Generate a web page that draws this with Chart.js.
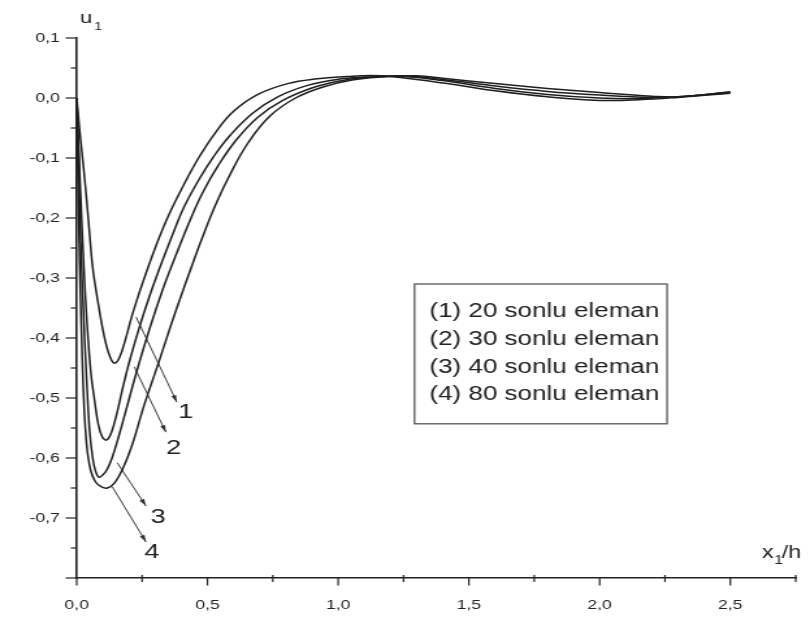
<!DOCTYPE html>
<html><head><meta charset="utf-8">
<script src="https://cdn.jsdelivr.net/npm/chart.js@4/dist/chart.umd.min.js"></script>
<style>html,body{margin:0;padding:0;background:#fff;overflow:hidden}
#c{display:block}</style>
</head><body>
<canvas id="c" width="623" height="624" style="width:810px;height:624px"></canvas>
<script>
// ---- data ----
const curve1X = [0, 0.011, 0.027, 0.038, 0.049, 0.061, 0.080, 0.098, 0.112, 0.128, 0.144, 0.163, 0.186, 0.212, 0.239, 0.265, 0.307, 0.352, 0.409, 0.466, 0.530, 0.598, 0.693, 0.807, 0.920, 1.034, 1.159, 1.30, 1.45, 1.60, 1.80, 2.00, 2.15, 2.30, 2.50];
const curve1U = [0, -0.053, -0.120, -0.170, -0.225, -0.282, -0.337, -0.382, -0.410, -0.432, -0.442, -0.433, -0.403, -0.362, -0.325, -0.292, -0.242, -0.195, -0.145, -0.100, -0.058, -0.023, 0.006, 0.024, 0.032, 0.036, 0.037, 0.031, 0.022, 0.012, 0.002, -0.004, -0.003, 0.001, 0.008];

const curve2X = [0, 0.008, 0.019, 0.034, 0.053, 0.068, 0.083, 0.098, 0.114, 0.133, 0.155, 0.174, 0.201, 0.239, 0.277, 0.314, 0.371, 0.409, 0.466, 0.523, 0.587, 0.674, 0.769, 0.883, 0.996, 1.110, 1.25, 1.40, 1.60, 1.80, 2.00, 2.15, 2.30, 2.50];
const curve2U = [0, -0.087, -0.203, -0.337, -0.453, -0.503, -0.545, -0.565, -0.570, -0.557, -0.523, -0.487, -0.440, -0.383, -0.332, -0.287, -0.223, -0.183, -0.137, -0.098, -0.062, -0.025, 0.002, 0.021, 0.031, 0.035, 0.036, 0.029, 0.016, 0.006, 0.000, -0.001, 0.002, 0.009];

const curve3X = [0, 0.008, 0.015, 0.027, 0.038, 0.049, 0.061, 0.072, 0.085, 0.100, 0.115, 0.135, 0.160, 0.190, 0.230, 0.280, 0.330, 0.372, 0.440, 0.485, 0.542, 0.610, 0.693, 0.788, 0.902, 1.000, 1.100, 1.25, 1.40, 1.60, 1.80, 2.00, 2.20, 2.30, 2.50];
const curve3U = [0, -0.103, -0.237, -0.370, -0.470, -0.553, -0.600, -0.622, -0.632, -0.628, -0.620, -0.600, -0.565, -0.518, -0.455, -0.383, -0.318, -0.270, -0.197, -0.155, -0.112, -0.070, -0.032, -0.004, 0.017, 0.028, 0.034, 0.037, 0.031, 0.020, 0.011, 0.005, 0.001, 0.002, 0.010];

const curve4X = [0, 0.004, 0.011, 0.019, 0.027, 0.038, 0.053, 0.072, 0.095, 0.117, 0.144, 0.182, 0.216, 0.250, 0.277, 0.314, 0.371, 0.436, 0.489, 0.534, 0.587, 0.655, 0.739, 0.837, 0.939, 1.053, 1.167, 1.30, 1.40, 1.60, 1.80, 2.00, 2.20, 2.30, 2.50];
const curve4U = [0, -0.120, -0.270, -0.403, -0.503, -0.578, -0.620, -0.640, -0.648, -0.650, -0.642, -0.612, -0.573, -0.523, -0.487, -0.440, -0.365, -0.285, -0.223, -0.175, -0.127, -0.075, -0.030, 0.000, 0.018, 0.030, 0.035, 0.037, 0.033, 0.024, 0.016, 0.009, 0.003, 0.002, 0.010];

const legendLabels = ['(1) 20 sonlu eleman', '(2) 30 sonlu eleman', '(3) 40 sonlu eleman', '(4) 80 sonlu eleman'];
const curveNumbers = ['1', '2', '3', '4'];
const xTickLabels = ['0,0', '0,5', '1,0', '1,5', '2,0', '2,5'];
const yTickLabels = ['0,1', '0,0', '-0,1', '-0,2', '-0,3', '-0,4', '-0,5', '-0,6', '-0,7'];

// label anchors and leader lines (data coordinates)
const numberAnchorX = [0.417, 0.371, 0.311, 0.288];
const numberAnchorU = [-0.523, -0.583, -0.698, -0.757];
const leaderFromX = [0.227, 0.220, 0.155, 0.136];
const leaderFromU = [-0.365, -0.448, -0.608, -0.648];
const leaderToX = [0.383, 0.341, 0.265, 0.265];
const leaderToU = [-0.507, -0.557, -0.680, -0.740];

// ---- build ----
const toPts = (xs, us) => xs.map((v, i) => ({x: v, y: us[i]}));
const curves = [[curve1X, curve1U], [curve2X, curve2U], [curve3X, curve3U], [curve4X, curve4U]];
const datasets = curves.map(([xs, us], i) => ({
  label: legendLabels[i],
  data: toPts(xs, us),
  showLine: true, pointRadius: 0, borderColor: '#1e1e1e', borderWidth: 1.5,
  tension: 0.4, fill: false
}));
leaderFromX.forEach((v, i) => datasets.push({
  label: 'leader' + curveNumbers[i],
  data: [{x: leaderFromX[i], y: leaderFromU[i]}, {x: leaderToX[i], y: leaderToU[i]}],
  showLine: true, pointRadius: 0, borderColor: '#3a3a3a', borderWidth: 1, tension: 0
}));

const FONT = '"Liberation Sans", Arial, Helvetica, sans-serif';
const TXT = '#222';

const decor = {
  id: 'decor',
  afterDatasetsDraw(chart) {
    const {ctx, chartArea: ca, scales: {x, y}} = chart;
    ctx.save();
    // tick marks (major + minor)
    ctx.strokeStyle = '#222'; ctx.lineWidth = 1.2;
    for (let k = -16; k <= 2; k++) {
      const py = y.getPixelForValue(k / 20);
      const major = k % 2 === 0;
      ctx.beginPath(); ctx.moveTo(ca.left - (major ? 8.5 : 4.6), py); ctx.lineTo(ca.left, py); ctx.stroke();
    }
    for (let k = 0; k <= 11; k++) {
      const px = x.getPixelForValue(k * 0.25);
      const major = k % 2 === 0;
      ctx.beginPath(); ctx.moveTo(px, major ? ca.bottom : ca.bottom - 3); ctx.lineTo(px, ca.bottom + (major ? 7.5 : 4)); ctx.stroke();
    }
    // arrowheads on leaders
    ctx.fillStyle = '#333';
    leaderToX.forEach((v, i) => {
      const x1 = x.getPixelForValue(leaderFromX[i]), y1 = y.getPixelForValue(leaderFromU[i]);
      const x2 = x.getPixelForValue(leaderToX[i]), y2 = y.getPixelForValue(leaderToU[i]);
      const a = Math.atan2(y2 - y1, x2 - x1), L = 7, W = 2;
      ctx.beginPath();
      ctx.moveTo(x2, y2);
      ctx.lineTo(x2 - L * Math.cos(a) + W * Math.sin(a), y2 - L * Math.sin(a) - W * Math.cos(a));
      ctx.lineTo(x2 - L * Math.cos(a) - W * Math.sin(a), y2 - L * Math.sin(a) + W * Math.cos(a));
      ctx.closePath(); ctx.fill();
    });
    // curve numbers
    ctx.fillStyle = TXT; ctx.font = '21px ' + FONT; ctx.textAlign = 'center'; ctx.textBaseline = 'middle';
    curveNumbers.forEach((t, i) => ctx.fillText(t, x.getPixelForValue(numberAnchorX[i]), y.getPixelForValue(numberAnchorU[i])));
    // legend box
    const bx0 = x.getPixelForValue(1.292), bx1 = x.getPixelForValue(2.258);
    const by0 = y.getPixelForValue(-0.31), by1 = y.getPixelForValue(-0.543);
    ctx.fillStyle = '#fff'; ctx.fillRect(bx0, by0, bx1 - bx0, by1 - by0);
    ctx.strokeStyle = '#555'; ctx.lineWidth = 1.3; ctx.strokeRect(bx0, by0, bx1 - bx0, by1 - by0);
    ctx.fillStyle = TXT; ctx.font = '20px ' + FONT; ctx.textAlign = 'left'; ctx.textBaseline = 'middle';
    legendLabels.forEach((t, i) => ctx.fillText(t, bx0 + 11.5, by0 + 27.7 + i * 27.7));
    // axis titles
    ctx.textBaseline = 'alphabetic'; ctx.textAlign = 'left';
    ctx.font = '17px ' + FONT;
    let ux = ca.left + 2.5;
    ctx.fillText('u', ux, ca.top - 15);
    ux += ctx.measureText('u').width + 1.5;
    ctx.font = '11px ' + FONT; ctx.fillText('1', ux, ca.top - 8);
    let xx = ca.right - 26;
    ctx.font = '18px ' + FONT; ctx.fillText('x', xx, ca.bottom - 20);
    xx += ctx.measureText('x').width + 0.5;
    ctx.font = '12px ' + FONT; ctx.fillText('1', xx, ca.bottom - 14);
    xx += ctx.measureText('1').width - 1;
    ctx.font = '18px ' + FONT; ctx.fillText('/h', xx, ca.bottom - 20);
    ctx.restore();
  }
};

new Chart(document.getElementById('c'), {
  type: 'scatter',
  data: {datasets},
  options: {
    responsive: false, animation: false, devicePixelRatio: 1,
    layout: {padding: {top: 38, left: 0, right: 5, bottom: 0}},
    plugins: {legend: {display: false}, tooltip: {enabled: false}},
    scales: {
      x: {
        type: 'linear', min: 0, max: 2.75, position: 'bottom',
        afterFit: s => { s.height = 46; },
        grid: {display: false, drawTicks: true, tickLength: 8},
        border: {display: true, color: '#222', width: 1.6},
        ticks: {
          stepSize: 0.25, autoSkip: false, maxRotation: 0, includeBounds: false, padding: 11,
          color: TXT, font: {family: FONT, size: 13.5},
          callback: v => { const k = Math.round(v / 0.5 * 1e6) / 1e6; return Number.isInteger(k) ? (xTickLabels[k] || '') : ''; }
        }
      },
      y: {
        type: 'linear', min: -0.8, max: 0.1, position: 'left',
        afterFit: s => { s.width = 59; },
        grid: {display: false, drawTicks: true, tickLength: 8},
        border: {display: true, color: '#222', width: 1.6},
        ticks: {
          stepSize: 0.05, autoSkip: false, padding: 5,
          color: TXT, font: {family: FONT, size: 13.5},
          callback: v => { const k = Math.round((0.1 - v) / 0.1 * 1e6) / 1e6; return Number.isInteger(k) ? (yTickLabels[k] || '') : ''; }
        }
      }
    }
  },
  plugins: [decor]
});
</script>
</body></html>
